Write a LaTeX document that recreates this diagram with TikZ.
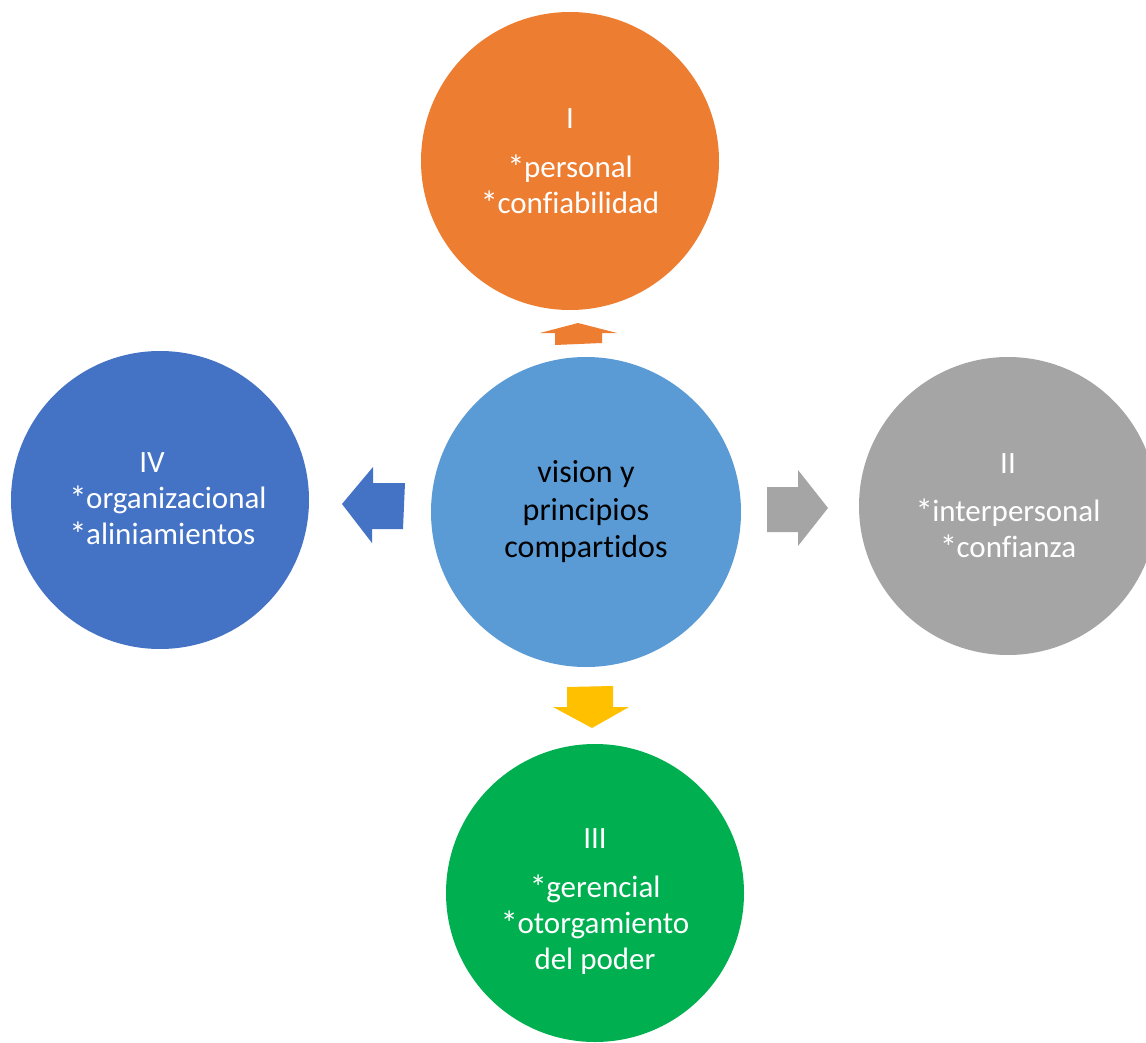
\documentclass[tikz,border=0pt]{standalone}
\usepackage{fontspec}
\setmainfont{Carlito}[Ligatures=NoCommon]
\definecolor{cOrange}{HTML}{ED7D31}
\definecolor{cCenter}{HTML}{5B9BD5}
\definecolor{cGray}{HTML}{A5A5A5}
\definecolor{cYellow}{HTML}{FFC000}
\definecolor{cDarkBlue}{HTML}{4472C4}
\definecolor{cGreen}{HTML}{00B050}
\newcommand\astk{\raisebox{-2pt}{\scalebox{1.12}{*}}\kern-0.5pt}
\begin{document}
\begin{tikzpicture}[x=1pt,y=-1pt,
  bubble/.style={circle,inner sep=0pt,minimum size=298pt},
  bubbletext/.style={inner sep=0pt,text=white,align=center,
    font=\fontsize{31pt}{36pt}\selectfont},
  hub/.style={circle,inner sep=0pt,minimum size=310pt,text=black,align=center,
    font=\fontsize{32pt}{37.5pt}\selectfont},
  blockarrow/.style={draw=none}]
\useasboundingbox (0,0) rectangle (1146,1043);
\clip (0,0) rectangle (1146,1043);
\fill[white] (0,0) rectangle (1146,1043);

\node[hub,fill=cCenter] (hub) at (586,512) {vision y\\principios\\compartidos};
\node[bubble,fill=cOrange] (top) at (570,161) {};
\node[bubble,fill=cGray] (right) at (1008,506) {};
\node[bubble,fill=cGreen] (bottom) at (595,893) {};
\node[bubble,fill=cDarkBlue] (left) at (160,500) {};

\node[bubbletext] (toptext) at ([yshift=-1pt]top.center) {I\\[13pt]\astk personal\\\astk confiabilidad};
\node[bubbletext] (righttext) at ([yshift=-1pt]right.center) {II\\[12pt]\astk interpersonal\\\astk confianza};
\node[bubbletext] (bottomtext) at ([yshift=-9pt]bottom.center) {III\\[13pt]\astk gerencial\\\astk otorgamiento\\del poder};
\node[bubbletext,align=left] (lefttext) at ([xshift=8pt]left.center) {\hspace*{70pt}IV\\\astk organizacional\\\astk aliniamientos};

% block arrows
\fill[cOrange,blockarrow] (555,345) -- (555,333) -- (540,333) -- (578,323) -- (617,333) -- (602,333) -- (602,343) -- cycle;
\fill[cDarkBlue,blockarrow] (405,483) -- (373,483) -- (373,467) -- (342,504) -- (372,543) -- (372,529) -- (403,529) -- cycle;
\fill[cGray,blockarrow] (767,487) -- (798,487) -- (798,470) -- (828,508) -- (798,546) -- (798,532) -- (767,532) -- cycle;
\fill[cYellow,blockarrow] (567,687) -- (613,686) -- (613,707) -- (629,707) -- (592,728) -- (553,707) -- (567,707) -- cycle;
\end{tikzpicture}
\end{document}
